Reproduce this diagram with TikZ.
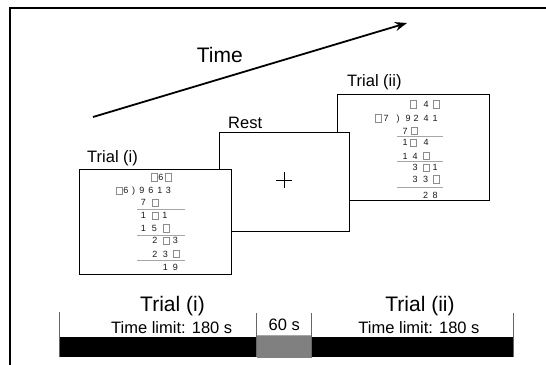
\documentclass[tikz,border=0pt]{standalone}
\usepackage{fontspec}
\setmainfont{Liberation Sans}
\usetikzlibrary{arrows.meta}
\begin{document}
\begin{tikzpicture}[x=1pt,y=-1pt,
  card/.style={draw=black, fill=white, line width=0.9pt, inner sep=0pt, anchor=north west},
  lbl/.style={font=\fontsize{16.5}{18}\selectfont, inner sep=0pt, anchor=base west},
  big/.style={font=\fontsize{21}{24}\selectfont, inner sep=0pt, anchor=base},
  mid/.style={font=\fontsize{16.5}{18}\selectfont, inner sep=0pt, anchor=base},
  dig/.style={font=\fontsize{9}{10}\selectfont, inner sep=0pt, anchor=base, text=black!90},
  bx/.style={draw=black!45, line width=0.5pt},
  rule/.style={draw=black!35, line width=0.5pt},
  tick/.style={draw=black!60, line width=0.6pt}]
\useasboundingbox (0,0) rectangle (546,364);
% outer frame
\draw[line width=2pt] (10,370) -- (10,7.5) -- (552,7.5);
% time arrow
\coordinate (ta) at (93,117);
\coordinate (tb) at (407,23);
\draw[line width=1.8pt, -{Stealth[length=12pt,width=9pt]}] (ta) -- (tb);
\node[font=\fontsize{21}{24}\selectfont, inner sep=0pt, anchor=base west] (time) at (196.7,62.7) {Time};
% cards
\node[card, minimum width=151.4pt, minimum height=105.7pt] (cardii) at (337.3,94.3) {};
\node[card, minimum width=129.7pt, minimum height=99.3pt] (rest) at (219.3,131.7) {};
\node[card, minimum width=151.4pt, minimum height=105pt] (cardi) at (79.3,169) {};
\node[lbl] (lbli) at (87,162) {Trial (i)};
\node[lbl] (lblr) at (228,128) {Rest};
\node[lbl] (lblii) at (347,86) {Trial (ii)};
% plus
\draw[line width=0.7pt] (276,180) -- (292,180) (284,172) -- (284,188);
% card (i) content
\foreach \x/\y [count=\k] in {154/177.3,168/177.3,119/190.7,155/202.7,155/215.7,166/228.3,166/240.7,176.5/254}
  \draw[bx] (\x-3.2,\y-3.6) rectangle (\x+3.2,\y+3.6);
\foreach \x/\y/\t [count=\k] in {161/177.3/6, 126/190.7/6, 133.5/190.7/), 142/190.7/9, 151/190.7/6, 160/190.7/1, 168.5/190.7/3,
  143.5/202.7/7, 143.5/215.7/1, 165/215.7/1, 143.5/228.3/1, 154.5/228.3/5,
  155/240.7/2, 175.5/240.7/3, 155/254/2, 165.5/254/3, 165.5/267.7/1, 175.5/267.7/9}
  \node[dig, name=ci\k] at (\x,\y+3.2) {\t};
\foreach \y in {209,235,260.5}
  \draw[rule] (137,\y) -- (185,\y);
% card (ii) content
\foreach \x/\y [count=\k] in {413.5/104.3,436/104.3,378.5/118.3,414.5/131,413.5/142.7,426/156,426/167.7,436/179.3}
  \draw[bx] (\x-3.2,\y-3.6) rectangle (\x+3.2,\y+3.6);
\foreach \x/\y/\t [count=\k] in {426/104.3/4, 386/118.3/7, 398/118.3/), 408/118.3/9, 416/118.3/2, 426/118.3/4, 435/118.3/1,
  405/131/7, 405/142.7/1, 426/142.7/4, 405/156/1, 415/156/4,
  415/167.7/3, 435/167.7/1, 415/179.3/3, 425.5/179.3/3, 425.5/195/2, 435/195/8}
  \node[dig, name=cii\k] at (\x,\y+3.2) {\t};
\foreach \y in {136.7,161.7,187.3}
  \draw[rule] (397,\y) -- (443,\y);
% timeline
\coordinate (t0) at (59.3,357.3);
\coordinate (t1) at (256.7,357.3);
\coordinate (t2) at (311.7,357.3);
\coordinate (t3) at (513.3,357.3);
\fill[black] (59.3,336.7) rectangle (513.3,357.3);
\fill[fill=black!50] (256.7,335) rectangle (311.7,357.8);
\draw[draw=black!35, line width=0.6pt] (256.7,335) -- (311.7,335);
\draw[tick] (t0) -- ++(0,-45.6);
\draw[tick] (t1) -- ++(0,-44);
\draw[tick] (t2) -- ++(0,-44);
\draw[tick] (t3) -- ++(0,-44);
\node[big] (tri) at (172.5,311.7) {Trial (i)};
\node[mid] (tli) at (171.7,333) {Time limit: 180 s};
\node[mid] (rs) at (284.2,330.5) {60 s};
\node[big] (trii) at (420,311.7) {Trial (ii)};
\node[mid] (tlii) at (419,333) {Time limit: 180 s};
\end{tikzpicture}
\end{document}
